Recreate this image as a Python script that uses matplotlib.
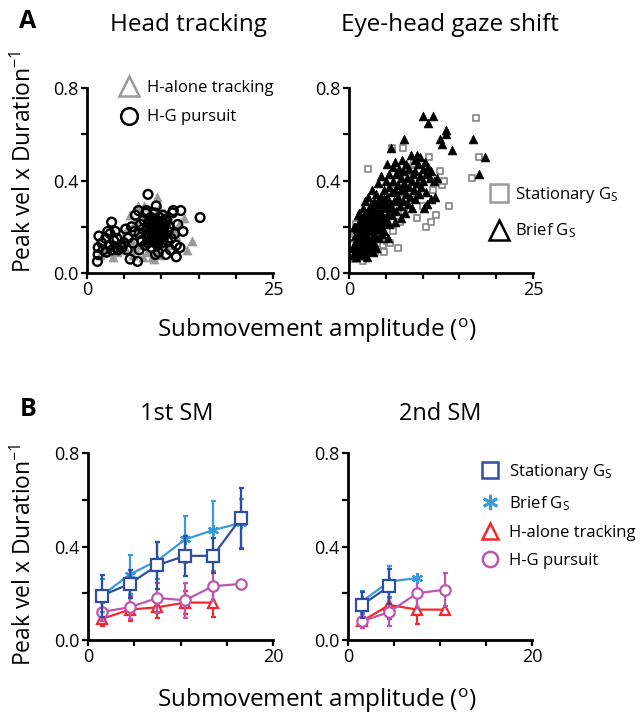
import numpy as np
import matplotlib
matplotlib.use('Agg')
import matplotlib.pyplot as plt
from matplotlib.lines import Line2D

plt.rcParams['font.family'] = ['Open Sans', 'DejaVu Sans']
plt.rcParams['mathtext.fontset'] = 'custom'
plt.rcParams['mathtext.rm'] = 'Open Sans'
plt.rcParams['mathtext.it'] = 'Open Sans:italic'

# ---- panel A, head tracking ----
halone_x = [1.8, 2.3, 2.9, 3.5, 4.0, 4.4, 4.8, 5.2, 5.5, 5.8, 6.0, 6.2, 6.5, 6.8, 7.0, 7.2,
            7.5, 7.7, 7.9, 8.1, 8.3, 8.5, 8.7, 8.9, 9.1, 9.4, 9.5, 9.7, 9.9, 10.1, 10.3,
            10.6, 10.9, 11.2, 11.5, 12.0, 12.4, 13.0, 13.4, 14.1, 9.0, 10.0, 7.5, 6.5]
halone_y = [0.08, 0.11, 0.09, 0.07, 0.09, 0.13, 0.16, 0.10, 0.20, 0.25, 0.14, 0.08, 0.22, 0.29,
            0.18, 0.12, 0.25, 0.29, 0.21, 0.09, 0.15, 0.27, 0.07, 0.19, 0.24, 0.33, 0.10, 0.28,
            0.14, 0.21, 0.26, 0.17, 0.12, 0.23, 0.19, 0.16, 0.21, 0.24, 0.10, 0.14, 0.06, 0.08,
            0.07, 0.11]
hg_x = [1.4, 1.5, 1.5, 1.6, 2.0, 2.2, 2.5, 2.6, 3.0, 3.1, 3.3, 3.4, 3.6, 3.8, 3.9, 4.2, 4.5,
        4.7, 5.0, 5.2, 5.8, 5.5, 6.0, 6.2, 6.5, 6.8, 6.9, 7.0, 7.2, 7.4, 7.5, 7.6, 7.8, 7.9,
        8.0, 8.1, 8.2, 8.3, 8.4, 8.5, 8.6, 8.7, 8.8, 8.9, 9.0, 9.1, 9.2, 9.3, 9.4, 9.5, 9.6,
        9.7, 9.8, 9.9, 10.0, 10.1, 10.2, 10.3, 10.4, 10.5, 10.6, 10.7, 10.8, 10.9, 11.0, 11.2,
        11.3, 11.5, 11.6, 11.8, 12.0, 12.0, 12.2, 12.5, 12.6, 12.9, 15.2, 9.2, 9.6, 8.0, 7.0,
        6.4, 5.4, 4.0, 2.8, 8.6, 9.4, 10.1, 9.0, 8.8,
        8.4, 8.7, 9.0, 9.3, 9.6, 9.9, 10.2, 8.5, 8.9, 9.3, 9.7, 10.0, 8.2, 9.5, 9.1, 10.4]
hg_y = [0.05, 0.08, 0.11, 0.16, 0.13, 0.10, 0.15, 0.09, 0.12, 0.17, 0.22, 0.10, 0.14, 0.18,
        0.11, 0.10, 0.12, 0.11, 0.13, 0.19, 0.06, 0.15, 0.20, 0.13, 0.25, 0.05, 0.27, 0.17,
        0.21, 0.14, 0.19, 0.23, 0.12, 0.26, 0.16, 0.20, 0.34, 0.22, 0.14, 0.18, 0.24, 0.11,
        0.21, 0.16, 0.19, 0.26, 0.13, 0.29, 0.22, 0.17, 0.20, 0.24, 0.15, 0.18, 0.22, 0.13,
        0.25, 0.19, 0.16, 0.21, 0.08, 0.23, 0.14, 0.18, 0.20, 0.10, 0.15, 0.26, 0.27, 0.17,
        0.12, 0.07, 0.21, 0.11, 0.27, 0.18, 0.24, 0.08, 0.09, 0.27, 0.10, 0.18, 0.10, 0.15,
        0.18, 0.20, 0.17, 0.20, 0.23, 0.15,
        0.16, 0.19, 0.14, 0.17, 0.14, 0.20, 0.17, 0.21, 0.23, 0.19, 0.21, 0.16, 0.13, 0.12,
        0.21, 0.23]

# ---- panel A, eye-head gaze shift ----
stat_x = [0.5, 0.8, 1.0, 1.3, 1.6, 2.0, 2.3, 2.6, 2.8, 3.0, 3.3, 3.5, 3.8, 4.0, 4.3, 4.6, 5.0,
          5.2, 5.4, 5.8, 6.0, 6.2, 6.7, 6.9, 7.3, 7.5, 7.8, 8.0, 8.3, 8.6, 8.8, 9.0, 9.3, 9.6,
          10.0, 10.5, 10.9, 11.1, 11.4, 11.8, 12.3, 12.6, 12.9, 13.6, 16.7, 17.2, 17.7, 2.0,
          1.0, 4.8, 3.1, 7.0, 8.4, 0.4, 0.7, 1.9, 3.6, 5.6]
stat_y = [0.08, 0.17, 0.10, 0.06, 0.12, 0.07, 0.10, 0.45, 0.09, 0.14, 0.11, 0.28, 0.13, 0.20,
          0.16, 0.12, 0.24, 0.14, 0.30, 0.54, 0.18, 0.36, 0.11, 0.22, 0.54, 0.27, 0.42, 0.46,
          0.45, 0.44, 0.47, 0.32, 0.24, 0.38, 0.29, 0.20, 0.50, 0.22, 0.36, 0.25, 0.44, 0.38,
          0.40, 0.29, 0.41, 0.67, 0.50, 0.15, 0.21, 0.09, 0.23, 0.32, 0.33, 0.12, 0.06, 0.05,
          0.09, 0.13]
brief_x = [0.6, 0.7, 0.8, 0.9, 1.0, 1.0, 1.1, 1.2, 1.2, 1.3, 1.4, 1.4, 1.5, 1.5,
           1.6, 1.7, 1.7, 1.8, 1.9, 1.9, 2.0, 2.0, 2.1, 2.2, 2.2, 2.3, 2.4, 2.4, 2.5, 2.6,
           2.6, 2.7, 2.8, 2.8, 2.9, 3.0, 3.0, 3.1, 3.1, 3.2, 3.3, 3.4, 3.4, 3.5,
           3.6, 3.7, 3.7, 3.8, 3.9, 4.0, 4.0, 4.1, 4.2, 4.3, 4.4, 4.4, 4.5, 4.6, 4.7, 4.8,
           4.9, 5.0, 5.0, 5.1, 5.2, 5.3, 5.4, 5.5, 5.5, 5.6, 5.7, 5.8, 5.9, 6.0, 6.0, 6.1,
           6.2, 6.3, 6.4, 6.4,
           6.6, 6.7, 6.8, 6.9, 7.0, 7.1, 7.2, 7.3, 7.4, 7.5, 7.5, 7.6, 7.7, 7.8, 7.9, 8.0,
           8.1, 8.2, 8.3, 8.4, 8.5, 8.6, 8.7, 8.8, 8.9, 9.0, 9.0,
           9.2, 9.3, 9.4, 9.5, 9.6, 9.7, 9.8, 10.0, 10.0, 10.1, 10.2, 10.3, 10.4, 10.5, 10.6,
           10.7, 10.8, 11.0, 11.1, 11.2, 11.4, 11.5, 11.7, 12.0, 12.3, 12.7, 13.2, 13.2, 14.0,
           16.9, 17.7, 18.5, 2.4, 5.3, 4.5, 6.2, 7.0, 3.3, 3.7,
           0.8, 1.1, 1.3, 1.6, 1.8, 2.1, 2.3, 2.5, 2.7, 2.9, 3.2, 3.5, 3.8, 4.1, 4.6,
           0.5, 0.9, 1.2, 1.5, 1.9, 2.2, 2.6, 3.0, 3.3, 3.6, 4.2, 4.8, 5.2, 5.8, 6.5, 7.3,
           0.7, 1.4, 2.0, 2.7, 3.4, 4.0]
brief_y = [0.08, 0.12, 0.16, 0.10, 0.07, 0.14, 0.19, 0.25, 0.11, 0.17, 0.08, 0.22, 0.13, 0.19,
           0.10, 0.15, 0.24, 0.20, 0.12, 0.28, 0.17, 0.08, 0.22, 0.14, 0.31, 0.19, 0.26, 0.11,
           0.16, 0.21, 0.33, 0.13, 0.24, 0.18, 0.29, 0.10, 0.20, 0.15, 0.36, 0.26, 0.22, 0.31,
           0.17, 0.12,
           0.28, 0.24, 0.34, 0.19, 0.30, 0.22, 0.39, 0.15, 0.27, 0.33, 0.20, 0.42, 0.25, 0.30,
           0.36, 0.18, 0.28, 0.40, 0.23, 0.33, 0.47, 0.26, 0.37, 0.21, 0.43, 0.30, 0.54, 0.35,
           0.25, 0.46, 0.40, 0.31, 0.48, 0.36, 0.27, 0.43,
           0.38, 0.33, 0.45, 0.29, 0.41, 0.36, 0.49, 0.31, 0.44, 0.58, 0.39, 0.26, 0.34, 0.47,
           0.41, 0.30, 0.37, 0.45, 0.33, 0.51, 0.40, 0.28, 0.43, 0.36, 0.49, 0.32, 0.44,
           0.39, 0.51, 0.47, 0.34, 0.42, 0.50, 0.37, 0.68, 0.45, 0.40, 0.28, 0.48, 0.35, 0.43,
           0.30, 0.65, 0.46, 0.41, 0.32, 0.44, 0.68, 0.40, 0.33, 0.41, 0.58, 0.56, 0.62, 0.60,
           0.53, 0.58, 0.43, 0.50, 0.07, 0.15, 0.17, 0.22, 0.24, 0.09, 0.11,
           0.20, 0.09, 0.14, 0.18, 0.09, 0.12, 0.16, 0.23, 0.10, 0.14, 0.19, 0.16, 0.25, 0.19,
           0.22,
           0.11, 0.13, 0.16, 0.21, 0.15, 0.19, 0.27, 0.18, 0.28, 0.21, 0.24, 0.32, 0.29, 0.28,
           0.32, 0.37, 0.20, 0.26, 0.25, 0.20, 0.24, 0.31]

# ---- panel B, binned means (amplitude bins) ----
sm1_x = [1.5, 4.5, 7.5, 10.5, 13.5, 16.5]
sm1_stat = [0.19, 0.24, 0.32, 0.36, 0.36, 0.52]
sm1_stat_err = [0.09, 0.06, 0.10, 0.085, 0.075, 0.13]
sm1_brief = [0.19, 0.28, 0.34, 0.43, 0.47, 0.50]
sm1_brief_err = [0.07, 0.085, 0.08, 0.10, 0.125, 0.105]
sm1_halone = [0.09, 0.13, 0.14, 0.16, 0.16]
sm1_halone_err = [0.03, 0.05, 0.045, 0.05, 0.06]
sm1_hg = [0.12, 0.14, 0.18, 0.17, 0.23, 0.24]
sm1_hg_err = [0.04, 0.05, 0.065, 0.075, 0.065, 0.0]

sm2_x = [1.5, 4.5, 7.5, 10.5]
sm2_stat = [0.15, 0.23]
sm2_stat_err = [0.055, 0.075]
sm2_brief = [0.165, 0.25, 0.265]
sm2_brief_err = [0.045, 0.065, 0.0]
sm2_halone = [0.08, 0.15, 0.13, 0.13]
sm2_halone_err = [0.03, 0.06, 0.06, 0.0]
sm2_hg = [0.08, 0.12, 0.20, 0.215]
sm2_hg_err = [0.03, 0.06, 0.065, 0.07]

c_stat = '#2d4ea2'
c_brief = '#3b9ad8'
c_halone = '#ee2a2e'
c_hg = '#c055b0'
grey = '#999999'
asterisk = (6, 2, 0)

W, H = 642, 716
fig = plt.figure(figsize=(W / 100, H / 100), dpi=100)


def add_ax(l, t, r, b):
    return fig.add_axes([l / W, 1 - b / H, (r - l) / W, (b - t) / H])


def style(ax, xmax):
    for s in ['top', 'right']:
        ax.spines[s].set_visible(False)
    for s in ['left', 'bottom']:
        ax.spines[s].set_linewidth(2)
    ax.set_xlim(0, xmax)
    ax.set_ylim(0, 0.8)
    xt = np.arange(0, xmax + 1, 5)
    ax.set_xticks(xt)
    ax.set_xticklabels([str(int(v)) if v in (0, xmax) else '' for v in xt])
    ax.set_yticks([0, 0.2, 0.4, 0.6, 0.8])
    ax.set_yticklabels(['0.0', '', '0.4', '', '0.8'])
    ax.tick_params(direction='out', length=4, width=1.6, labelsize=13, pad=2)


axA1 = add_ax(87, 88, 273, 273)
axA2 = add_ax(349, 88, 533, 273)
axB1 = add_ax(88, 453, 273, 640)
axB2 = add_ax(348, 453, 532, 640)

# A left
axA1.scatter(halone_x, halone_y, marker='^', s=42, c=grey, edgecolors=grey, linewidths=0.5)
axA1.scatter(hg_x, hg_y, marker='o', s=40, facecolors='none', edgecolors='k', linewidths=1.7)
style(axA1, 25)
hA1 = [Line2D([], [], ls='none', marker='^', ms=14, mfc='none', mec=grey, mew=1.8),
       Line2D([], [], ls='none', marker='o', ms=12, mfc='none', mec='k', mew=1.8)]
fig.legend(hA1, ['H-alone tracking', 'H-G pursuit'], loc='upper left',
           bbox_to_anchor=(121 / W, 1 - 80 / H), frameon=False, fontsize=12,
           handlelength=1.0, handletextpad=0.55, labelspacing=0.8, borderpad=0, borderaxespad=0)

# A right
axA2.scatter(stat_x, stat_y, marker='s', s=17, facecolors='white', edgecolors='#8c8c8c', linewidths=1.3)
axA2.scatter(brief_x, brief_y, marker='^', s=40, c='k', edgecolors='k', linewidths=0.5)
style(axA2, 25)
hA2 = [Line2D([], [], ls='none', marker='s', ms=13, mfc='none', mec=grey, mew=1.8),
       Line2D([], [], ls='none', marker='^', ms=15, mfc='none', mec='k', mew=1.8)]
fig.legend(hA2, ['Stationary G$_\\mathregular{S}$', 'Brief G$_\\mathregular{S}$'], loc='upper left',
           bbox_to_anchor=(491 / W, 1 - 185 / H), frameon=False, fontsize=12,
           handlelength=1.0, handletextpad=0.45, labelspacing=1.0, borderpad=0, borderaxespad=0)


def binned(ax, x, y, e, color, marker, ms, z):
    n = len(y)
    ax.errorbar(x[:n], y, yerr=e, color=color, lw=1.6, marker=marker, ms=ms, mfc='white',
                mec=color, mew=1.6, elinewidth=1.6, capsize=1.8, capthick=1.4, zorder=z,
                clip_on=False)


binned(axB1, sm1_x, sm1_halone, sm1_halone_err, c_halone, '^', 7.5, 3)
binned(axB1, sm1_x, sm1_hg, sm1_hg_err, c_hg, 'o', 7.5, 4)
binned(axB1, sm1_x, sm1_brief, sm1_brief_err, c_brief, asterisk, 8, 5)
binned(axB1, sm1_x, sm1_stat, sm1_stat_err, c_stat, 's', 8, 6)
style(axB1, 20)

binned(axB2, sm2_x, sm2_halone, sm2_halone_err, c_halone, '^', 7.5, 3)
binned(axB2, sm2_x, sm2_hg, sm2_hg_err, c_hg, 'o', 7.5, 4)
binned(axB2, sm2_x, sm2_brief, sm2_brief_err, c_brief, asterisk, 8, 5)
binned(axB2, sm2_x, sm2_stat, sm2_stat_err, c_stat, 's', 8, 6)
style(axB2, 20)

hB = [Line2D([], [], ls='none', marker='s', ms=11, mfc='none', mec=c_stat, mew=1.8),
      Line2D([], [], ls='none', marker=asterisk, ms=11, mfc='none', mec=c_brief, mew=2),
      Line2D([], [], ls='none', marker='^', ms=12, mfc='none', mec=c_halone, mew=1.8),
      Line2D([], [], ls='none', marker='o', ms=11, mfc='none', mec=c_hg, mew=1.8)]
fig.legend(hB, ['Stationary G$_\\mathregular{S}$', 'Brief G$_\\mathregular{S}$',
                'H-alone tracking', 'H-G pursuit'], loc='upper left',
           bbox_to_anchor=(482 / W, 1 - 462 / H), frameon=False, fontsize=12,
           handlelength=1.0, handletextpad=0.6, labelspacing=0.72, borderpad=0, borderaxespad=0)

# titles and labels
def ftext(x, y, s, **kw):
    fig.text(x / W, 1 - y / H, s, ha='center', va='center', **kw)


ftext(28, 22, 'A', fontsize=18, fontweight='bold')
ftext(28, 410, 'B', fontsize=18, fontweight='bold')
ftext(188, 25, 'Head tracking', fontsize=17.5)
ftext(450, 25, 'Eye-head gaze shift', fontsize=17.5)
ftext(177, 414, '1st SM', fontsize=17)
ftext(440, 414, '2nd SM', fontsize=17)
ylab = 'Peak vel x Duration$^{\\mathregular{-1}}$'
ftext(24, 162, ylab, fontsize=16.5, rotation=90)
ftext(24, 555, ylab, fontsize=16.5, rotation=90)
xlab = 'Submovement amplitude ($^{\\mathregular{o}}$)'
ftext(317, 331, xlab, fontsize=17.5)
ftext(317, 701, xlab, fontsize=17.5)

fig.savefig('out.png', dpi=100)
